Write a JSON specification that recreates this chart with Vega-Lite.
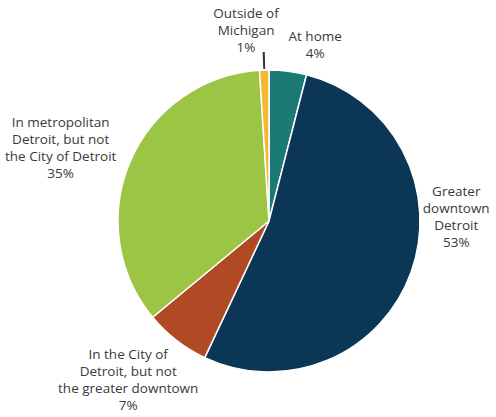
{
  "$schema": "https://vega.github.io/schema/vega-lite/v6.json",
  "width": 454,
  "height": 392,
  "autosize": {"type": "none"},
  "padding": {"left": 42, "top": 25, "right": 0, "bottom": 0},
  "background": "white",
  "config": {"view": {"stroke": null}},
  "data": {
    "values": [
      {"idx": 1, "place": "At home", "label": "At home\n4%", "pct": 4},
      {"idx": 2, "place": "Greater downtown Detroit", "label": "Greater\ndowntown\nDetroit\n53%", "pct": 53},
      {"idx": 3, "place": "In the City of Detroit, but not the greater downtown", "label": "In the City of\nDetroit, but not\nthe greater downtown\n7%", "pct": 7},
      {"idx": 4, "place": "In metropolitan Detroit, but not the City of Detroit", "label": "In metropolitan\nDetroit, but not\nthe City of Detroit\n35%", "pct": 35},
      {"idx": 5, "place": "Outside of Michigan", "label": "Outside of\nMichigan\n1%", "pct": 1}
    ]
  },
  "transform": [
    {"stack": "pct", "groupby": [], "sort": [{"field": "idx", "order": "ascending"}], "as": ["p0", "p1"]},
    {"calculate": "(datum.p0 + datum.p1) / 2", "as": "mid"}
  ],
  "layer": [
    {
      "mark": {"type": "arc", "outerRadius": 151, "stroke": "white", "strokeWidth": 1.5},
      "encoding": {
        "theta": {"field": "p0", "type": "quantitative", "stack": null, "scale": {"domain": [0, 100]}},
        "theta2": {"field": "p1"},
        "color": {
          "field": "place",
          "type": "nominal",
          "scale": {
            "domain": ["At home", "Greater downtown Detroit", "In the City of Detroit, but not the greater downtown", "In metropolitan Detroit, but not the City of Detroit", "Outside of Michigan"],
            "range": ["#1b7b74", "#0b3655", "#b04a25", "#9dc545", "#f4b731"]
          },
          "legend": null
        }
      }
    },
    {
      "transform": [
        {"filter": "datum.idx == 5"},
        {"calculate": "datum.mid - 0.1", "as": "l0"},
        {"calculate": "datum.mid + 0.1", "as": "l1"}
      ],
      "mark": {"type": "arc", "innerRadius": 152, "outerRadius": 169, "color": "#333333"},
      "encoding": {
        "theta": {"field": "l0", "type": "quantitative", "stack": null},
        "theta2": {"field": "l1"}
      }
    },
    {
      "transform": [{"filter": "datum.idx == 1"}],
      "mark": {"type": "text", "radius": 177, "dx": 24, "dy": -8.5, "align": "center", "baseline": "middle", "lineBreak": "\n", "lineHeight": 17, "fontSize": 13.5, "font": "Open Sans", "color": "#3a3a3a"},
      "encoding": {"theta": {"field": "mid", "type": "quantitative", "stack": null}, "text": {"field": "label"}}
    },
    {
      "transform": [{"filter": "datum.idx == 2"}],
      "mark": {"type": "text", "radius": 199, "dy": -96.5, "align": "center", "baseline": "middle", "lineBreak": "\n", "lineHeight": 17, "fontSize": 13.5, "font": "Open Sans", "color": "#3a3a3a"},
      "encoding": {"theta": {"field": "mid", "type": "quantitative", "stack": null}, "text": {"field": "label"}}
    },
    {
      "transform": [{"filter": "datum.idx == 3"}],
      "mark": {"type": "text", "radius": 202, "dx": -17, "dy": -25.5, "align": "center", "baseline": "middle", "lineBreak": "\n", "lineHeight": 17, "fontSize": 13.5, "font": "Open Sans", "color": "#3a3a3a"},
      "encoding": {"theta": {"field": "mid", "type": "quantitative", "stack": null}, "text": {"field": "label"}}
    },
    {
      "transform": [{"filter": "datum.idx == 4"}],
      "mark": {"type": "text", "radius": 227, "dy": -7.5, "align": "center", "baseline": "middle", "lineBreak": "\n", "lineHeight": 17, "fontSize": 13.5, "font": "Open Sans", "color": "#3a3a3a"},
      "encoding": {"theta": {"field": "mid", "type": "quantitative", "stack": null}, "text": {"field": "label"}}
    },
    {
      "transform": [{"filter": "datum.idx == 5"}],
      "mark": {"type": "text", "radius": 190, "dx": -17, "dy": -17, "align": "center", "baseline": "middle", "lineBreak": "\n", "lineHeight": 17, "fontSize": 13.5, "font": "Open Sans", "color": "#3a3a3a"},
      "encoding": {"theta": {"field": "mid", "type": "quantitative", "stack": null}, "text": {"field": "label"}}
    }
  ]
}
